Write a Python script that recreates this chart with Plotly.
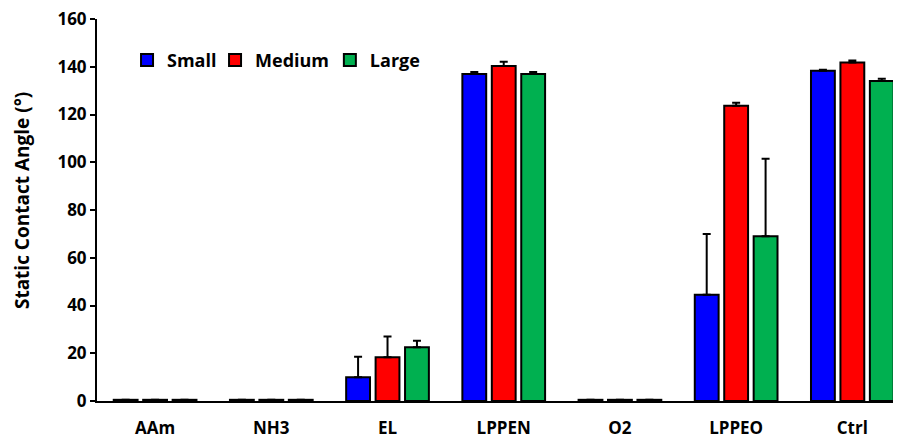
import plotly.graph_objects as go

categories = ["AAm", "NH3", "EL", "LPPEN", "O2", "LPPEO", "Ctrl"]
small_vals = [0.5, 0.5, 10.0, 137.0, 0.5, 44.5, 138.3]
small_err = [0, 0, 8.5, 0.8, 0, 25.5, 0.4]
medium_vals = [0.5, 0.5, 18.3, 140.3, 0.5, 123.7, 141.8]
medium_err = [0, 0, 8.7, 1.8, 0, 1.2, 0.8]
large_vals = [0.5, 0.5, 22.5, 137.0, 0.5, 69.0, 134.0]
large_err = [0, 0, 2.7, 0.8, 0, 32.5, 1.0]
y_ticks = [0, 20, 40, 60, 80, 100, 120, 140, 160]

series = [
    ("Small", small_vals, small_err, "#0000FF", "legend"),
    ("Medium", medium_vals, medium_err, "#FF0000", "legend2"),
    ("Large", large_vals, large_err, "#00B050", "legend3"),
]

font_family = "Open Sans, Liberation Sans, sans-serif"

fig = go.Figure()
for name, vals, errs, color, leg in series:
    fig.add_trace(go.Bar(
        x=categories, y=vals, name=name, legend=leg,
        marker=dict(color=color, line=dict(color="black", width=2)),
        error_y=dict(type="data", array=errs, arrayminus=[0] * len(errs),
                     symmetric=False, color="black", thickness=2, width=4),
    ))

legend_common = dict(orientation="h", y=0.94, xanchor="left", yanchor="top",
                     font=dict(size=18, family=font_family, weight="bold"),
                     bgcolor="rgba(0,0,0,0)", itemwidth=30)

fig.update_layout(
    width=901, height=438,
    margin=dict(l=89, r=9, t=11, b=45, autoexpand=False),
    plot_bgcolor="white", paper_bgcolor="white",
    barmode="group", bargap=0.24, bargroupgap=0.19,
    font=dict(family=font_family, size=18, color="black", weight="bold"),
    showlegend=True,
    legend=dict(x=0.0374, **legend_common),
    legend2=dict(x=0.147, **legend_common),
    legend3=dict(x=0.290, **legend_common),
    xaxis=dict(range=[-0.5, 6.41], showline=True, linecolor="black", linewidth=2,
               ticks="", showgrid=False, ticklabelstandoff=11, automargin=False,
               ticklabeloverflow="allow", tickfont=dict(size=17, weight="bold")),
    yaxis=dict(range=[0, 160], tickvals=y_ticks, showline=True, linecolor="black",
               linewidth=2, ticks="outside", ticklen=5, tickwidth=1.5,
               tickcolor="black", showgrid=False, zeroline=False, automargin=False,
               ticklabeloverflow="allow",
               tickfont=dict(size=17, weight="bold")),
    annotations=[dict(text="Static Contact Angle (°)", textangle=-90,
                      xref="paper", yref="paper", x=-0.0934, y=0.526,
                      xanchor="center", yanchor="middle", showarrow=False,
                      font=dict(size=19, weight="bold", family=font_family))],
)

fig.write_html("out.html")
